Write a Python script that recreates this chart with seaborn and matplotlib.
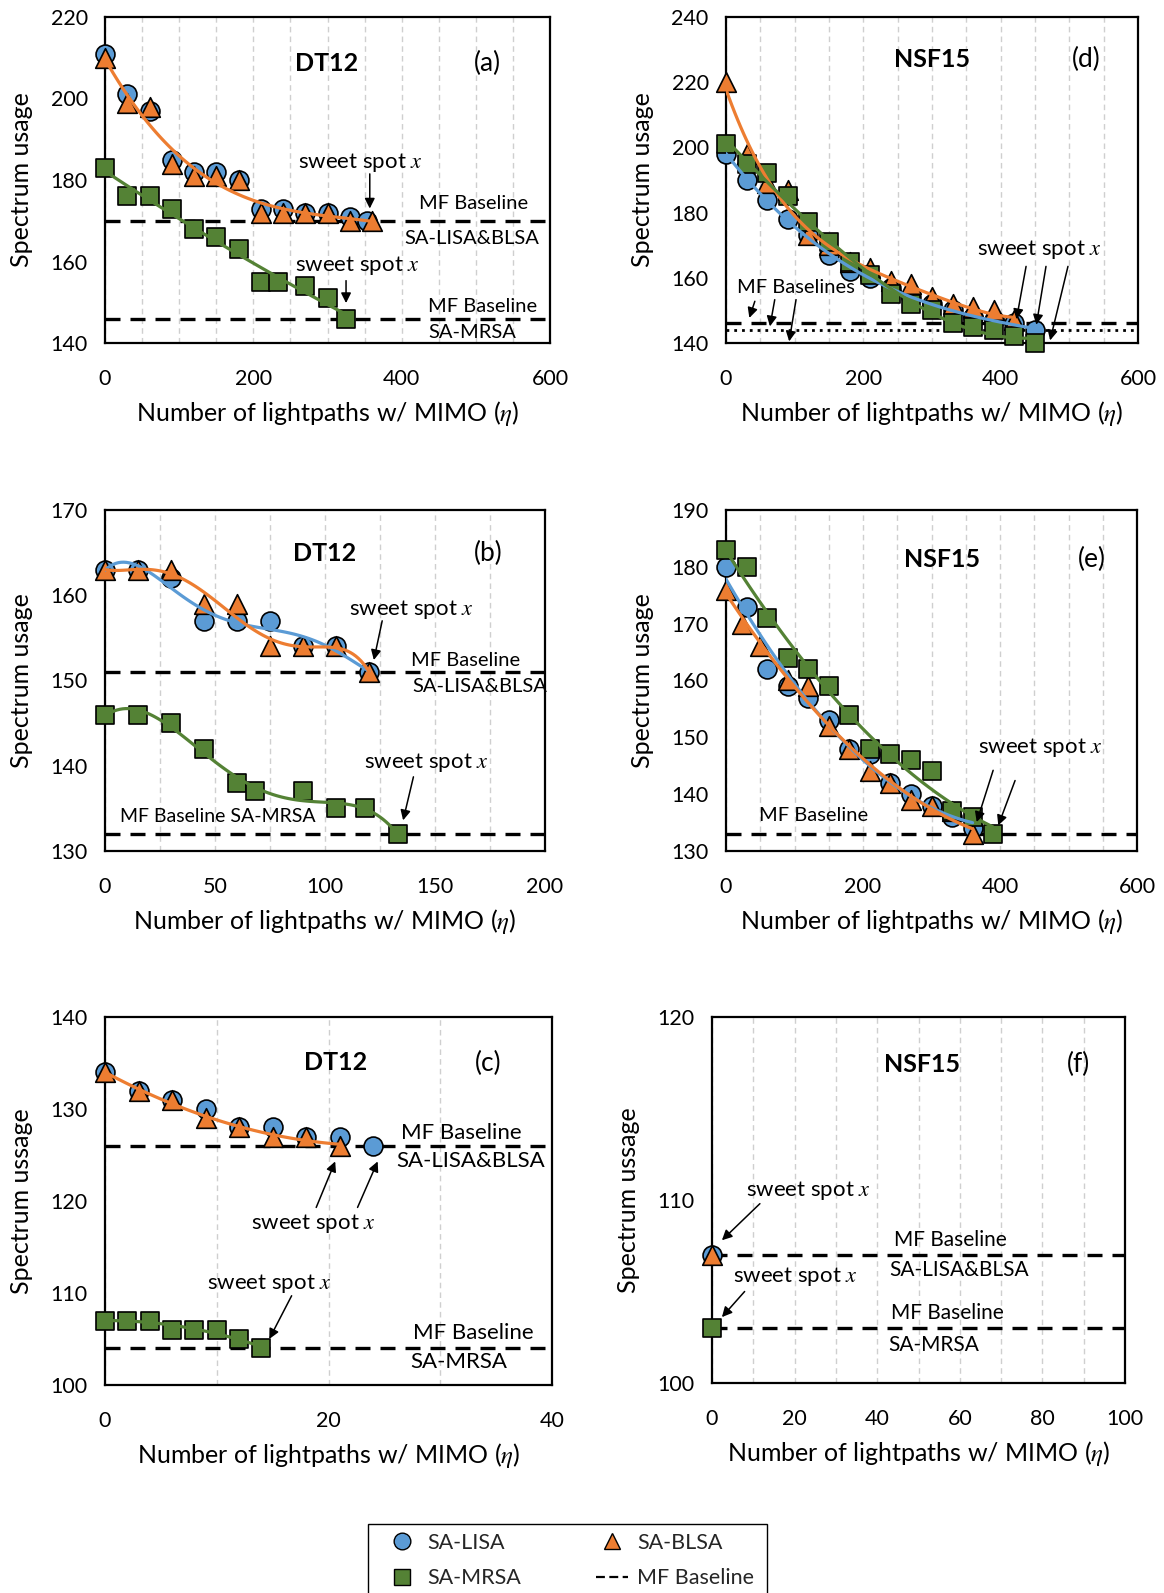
import numpy as np
import matplotlib
matplotlib.use("Agg")
import matplotlib.pyplot as plt
import seaborn as sns
from matplotlib.lines import Line2D
from matplotlib.patches import Rectangle
from matplotlib.ticker import MultipleLocator

# ---------------- data ----------------
# Panel (a) DT12
a_lisa_x = [0, 30, 60, 90, 120, 150, 180, 210, 240, 270, 300, 330, 353]
a_lisa_y = [211, 201, 197, 185, 182, 182, 180, 173, 173, 172, 172, 171, 170]
a_blsa_x = [0, 30, 60, 90, 120, 150, 180, 210, 240, 270, 300, 330, 360]
a_blsa_y = [210, 199, 198, 184, 181, 181, 180, 172, 172, 172, 172, 170, 170]
a_mrsa_x = [0, 30, 60, 90, 120, 150, 180, 210, 233, 270, 300, 325]
a_mrsa_y = [183, 176, 176, 173, 168, 166, 163, 155, 155, 154, 151, 146]
a_base = [170, 146]

# Panel (b) DT12
b_lisa_x = [0, 15, 30, 45, 60, 75, 90, 105, 120]
b_lisa_y = [163, 163, 162, 157, 157, 157, 154, 154, 151]
b_blsa_x = [0, 15, 30, 45, 60, 75, 90, 105, 120]
b_blsa_y = [163, 163, 163, 159, 159, 154, 154, 154, 151]
b_mrsa_x = [0, 15, 30, 45, 60, 68, 90, 105, 118, 133]
b_mrsa_y = [146, 146, 145, 142, 138, 137, 137, 135, 135, 132]
b_base = [151, 132]

# Panel (c) DT12
c_lisa_x = [0, 3, 6, 9, 12, 15, 18, 21, 24]
c_lisa_y = [134, 132, 131, 130, 128, 128, 127, 127, 126]
c_blsa_x = [0, 3, 6, 9, 12, 15, 18, 21]
c_blsa_y = [134, 132, 131, 129, 128, 127, 127, 126]
c_mrsa_x = [0, 2, 4, 6, 8, 10, 12, 14]
c_mrsa_y = [107, 107, 107, 106, 106, 106, 105, 104]
c_base = [126, 104]

# Panel (d) NSF15
d_lisa_x = [0, 30, 60, 90, 120, 150, 180, 210, 240, 270, 300, 330, 360, 390, 420, 450]
d_lisa_y = [198, 190, 184, 178, 173, 167, 162, 160, 157, 154, 152, 150, 148, 147, 146, 144]
d_blsa_x = [0, 30, 60, 90, 120, 150, 180, 210, 240, 270, 300, 330, 360, 390, 420]
d_blsa_y = [220, 198, 189, 187, 173, 170, 165, 163, 159, 158, 154, 152, 151, 150, 147]
d_mrsa_x = [0, 30, 60, 90, 120, 150, 180, 210, 240, 270, 300, 330, 360, 390, 420, 450]
d_mrsa_y = [201, 195, 192, 185, 177, 171, 165, 161, 155, 152, 150, 146, 145, 144, 142, 140]
d_base = [146, 144]

# Panel (e) NSF15
e_lisa_x = [0, 30, 60, 90, 120, 150, 180, 210, 240, 270, 300, 330, 360]
e_lisa_y = [180, 173, 162, 159, 157, 153, 148, 147, 142, 140, 138, 136, 134]
e_blsa_x = [0, 24, 50, 90, 120, 150, 180, 210, 240, 270, 300, 330, 360]
e_blsa_y = [176, 170, 166, 160, 159, 152, 148, 144, 142, 139, 138, 137, 133]
e_mrsa_x = [0, 30, 60, 90, 120, 150, 180, 210, 240, 270, 300, 330, 360, 390]
e_mrsa_y = [183, 180, 171, 164, 162, 159, 154, 148, 147, 146, 144, 137, 136, 133]
e_base = [133]

# Panel (f) NSF15
f_lisa_x = [0]
f_lisa_y = [107]
f_blsa_x = [0]
f_blsa_y = [107]
f_mrsa_x = [0]
f_mrsa_y = [103]
f_base = [107, 103]

# ---------------- style ----------------
W, H = 1164, 1593
sns.set_theme(style="white")
plt.rcParams["font.family"] = ["Lato", "DejaVu Sans"]
plt.rcParams["mathtext.fontset"] = "stix"

BLUE = "#5B9BD5"
ORANGE = "#ED7D31"
GREEN = "#548235"
TICK_FS = 15.5
LAB_FS = 18
ANN_FS = 16
MF_FS = 14.5
TITLE_FS = 18
PAREN_FS = 19

fig = plt.figure(figsize=(W / 100, H / 100), dpi=100)


def add_ax(l, r, t, b):
    return fig.add_axes([l / W, 1 - b / H, (r - l) / W, (b - t) / H])


def style_ax(ax, box, xlim, ylim, xmaj, xmin, ymaj, ymin, ylabel):
    l, r, t, b = box
    ax.set_xlim(xlim)
    ax.set_ylim(ylim)
    ax.xaxis.set_major_locator(MultipleLocator(xmaj))
    ax.xaxis.set_minor_locator(MultipleLocator(xmin))
    ax.yaxis.set_major_locator(MultipleLocator(ymaj))
    ax.yaxis.set_minor_locator(MultipleLocator(ymin))
    ax.grid(True, which="both", axis="x", color="#CFCFCF", lw=1.0, ls=(0, (4, 3)), zorder=0)
    ax.grid(False, axis="y")
    for s in ax.spines.values():
        s.set_color("black")
        s.set_linewidth(1.6)
    ax.tick_params(axis="both", which="major", direction="inout", length=11, width=1.5,
                   color="black", labelsize=TICK_FS, labelcolor="black")
    ax.tick_params(axis="x", which="major", pad=13)
    ax.tick_params(axis="y", which="major", pad=7)
    ax.tick_params(axis="both", which="minor", direction="in", length=5, width=1.2, color="black")
    ax.set_xlabel(r"Number of lightpaths w/ MIMO ($\eta$)", fontsize=LAB_FS, color="black")
    ax.set_ylabel(ylabel, fontsize=LAB_FS, color="black")
    ax.xaxis.label.set_va("center")
    ax.yaxis.label.set(va="center", ha="center", rotation_mode="default")
    ax.xaxis.set_label_coords(0.5, -71 / (b - t))
    ax.yaxis.set_label_coords(-83 / (r - l), 0.5)
    ax.set_axisbelow(True)


def points(ax, lx, ly, bx, by, mx, my):
    sns.scatterplot(x=lx, y=ly, marker="o", s=185, color=BLUE, edgecolor="black",
                    linewidth=1.2, ax=ax, zorder=3, legend=False, clip_on=False)
    sns.scatterplot(x=bx, y=by, marker="^", s=200, color=ORANGE, edgecolor="black",
                    linewidth=1.2, ax=ax, zorder=4, legend=False, clip_on=False)
    sns.scatterplot(x=mx, y=my, marker="s", s=160, color=GREEN, edgecolor="black",
                    linewidth=1.2, ax=ax, zorder=5, legend=False, clip_on=False)


def trend(ax, x, y, order, color):
    sns.regplot(x=np.array(x, float), y=np.array(y, float), order=order, ci=None,
                scatter=False, truncate=True, ax=ax,
                line_kws=dict(color=color, lw=2.3, zorder=6))


def baseline(ax, y, style="dash"):
    if style == "dash":
        ax.axhline(y, color="black", lw=2.4, ls=(0, (4.5, 3)), zorder=2)
    else:
        ax.axhline(y, color="black", lw=2.0, ls=(0, (1, 1.8)), zorder=2)


def arrow(ax, x1, y1, x2, y2):
    ax.annotate("", xy=(x2, y2), xytext=(x1, y1),
                arrowprops=dict(arrowstyle="-|>", color="black", lw=1.1,
                                mutation_scale=15, shrinkA=0, shrinkB=0), zorder=8)


def txt(ax, x, y, s, fs=ANN_FS, **kw):
    ax.text(x, y, s, fontsize=fs, ha="center", va="center", color="black", zorder=9, **kw)


SWEET = r"sweet spot $x$"

# ---------------- panel (a) ----------------
box = (105, 550, 17, 343)
ax = add_ax(*box)
points(ax, a_lisa_x, a_lisa_y, a_blsa_x, a_blsa_y, a_mrsa_x, a_mrsa_y)
trend(ax, a_blsa_x, a_blsa_y, 3, ORANGE)
trend(ax, a_mrsa_x, a_mrsa_y, 2, GREEN)
for v in a_base:
    baseline(ax, v)
style_ax(ax, box, (0, 600), (140, 220), 200, 50, 20, 10, "Spectrum usage")
txt(ax, 299, 208.7, "DT12", fs=TITLE_FS, fontweight="bold")
txt(ax, 515, 208.7, "(a)", fs=PAREN_FS)
txt(ax, 344, 184.3, SWEET)
arrow(ax, 357, 181.5, 357, 173.0)
txt(ax, 497, 174.3, "MF Baseline", fs=MF_FS)
txt(ax, 495, 165.6, "SA-LISA&BLSA", fs=MF_FS)
txt(ax, 340, 158.9, SWEET)
arrow(ax, 325, 155.3, 325, 149.8)
txt(ax, 509, 148.9, "MF Baseline", fs=MF_FS)
txt(ax, 495, 142.6, "SA-MRSA", fs=MF_FS)

# ---------------- panel (d) ----------------
box = (726, 1138, 17, 343)
ax = add_ax(*box)
points(ax, d_lisa_x, d_lisa_y, d_blsa_x, d_blsa_y, d_mrsa_x, d_mrsa_y)
trend(ax, d_lisa_x, d_lisa_y, 3, BLUE)
trend(ax, d_blsa_x, d_blsa_y, 4, ORANGE)
trend(ax, d_mrsa_x, d_mrsa_y, 3, GREEN)
baseline(ax, d_base[0])
baseline(ax, d_base[1], style="dot")
style_ax(ax, box, (0, 600), (140, 240), 200, 50, 20, 10, "Spectrum usage")
txt(ax, 300, 227.1, "NSF15", fs=TITLE_FS, fontweight="bold")
txt(ax, 525, 227.1, "(d)", fs=PAREN_FS)
txt(ax, 457, 168.6, SWEET)
arrow(ax, 437, 163.5, 423, 147.3)
arrow(ax, 466, 163.5, 452, 145.6)
arrow(ax, 498, 163.5, 472, 140.8)
txt(ax, 102, 156.9, "MF Baselines", fs=MF_FS)
arrow(ax, 42, 152.8, 34, 147.7)
arrow(ax, 71, 153.3, 64, 145.1)
arrow(ax, 102, 153.3, 92, 140.5)

# ---------------- panel (b) ----------------
box = (105, 545, 510, 851)
ax = add_ax(*box)
points(ax, b_lisa_x, b_lisa_y, b_blsa_x, b_blsa_y, b_mrsa_x, b_mrsa_y)
trend(ax, b_lisa_x, b_lisa_y, 5, BLUE)
trend(ax, b_blsa_x, b_blsa_y, 5, ORANGE)
trend(ax, b_mrsa_x, b_mrsa_y, 5, GREEN)
for v in b_base:
    baseline(ax, v)
style_ax(ax, box, (0, 200), (130, 170), 50, 25, 10, 5, "Spectrum usage")
txt(ax, 100, 164.9, "DT12", fs=TITLE_FS, fontweight="bold")
txt(ax, 174.3, 164.9, "(b)", fs=PAREN_FS)
txt(ax, 139.3, 158.3, SWEET)
arrow(ax, 126, 157.0, 122.2, 152.4)
txt(ax, 164, 152.3, "MF Baseline", fs=MF_FS)
txt(ax, 170.2, 149.3, "SA-LISA&BLSA", fs=MF_FS)
txt(ax, 146.2, 140.4, SWEET)
arrow(ax, 140.2, 138.7, 135.5, 133.6)
txt(ax, 51.1, 134.1, "MF Baseline SA-MRSA", fs=14)

# ---------------- panel (e) ----------------
box = (726, 1137, 510, 851)
ax = add_ax(*box)
points(ax, e_lisa_x, e_lisa_y, e_blsa_x, e_blsa_y, e_mrsa_x, e_mrsa_y)
trend(ax, e_lisa_x, e_lisa_y, 2, BLUE)
trend(ax, e_blsa_x, e_blsa_y, 2, ORANGE)
trend(ax, e_mrsa_x, e_mrsa_y, 2, GREEN)
baseline(ax, e_base[0])
style_ax(ax, box, (0, 600), (130, 190), 200, 50, 10, 5, "Spectrum usage")
txt(ax, 314.7, 181.3, "NSF15", fs=TITLE_FS, fontweight="bold")
txt(ax, 534, 181.3, "(e)", fs=PAREN_FS)
txt(ax, 458.4, 148.2, SWEET)
arrow(ax, 390, 144.2, 366, 135.1)
arrow(ax, 422, 142.4, 397.5, 134.5)
txt(ax, 127.5, 136.3, "MF Baseline", fs=MF_FS)

# ---------------- panel (c) ----------------
box = (105, 552, 1017, 1385)
ax = add_ax(*box)
points(ax, c_lisa_x, c_lisa_y, c_blsa_x, c_blsa_y, c_mrsa_x, c_mrsa_y)
trend(ax, c_blsa_x, c_blsa_y, 2, ORANGE)
trend(ax, c_mrsa_x, c_mrsa_y, 2, GREEN)
for v in c_base:
    baseline(ax, v)
style_ax(ax, box, (0, 40), (100, 140), 20, 10, 10, 5, "Spectrum ussage")
txt(ax, 20.6, 135, "DT12", fs=TITLE_FS, fontweight="bold")
txt(ax, 34.3, 135, "(c)", fs=PAREN_FS)
txt(ax, 31.9, 127.4, "MF Baseline", fs=ANN_FS)
txt(ax, 32.7, 124.3, "SA-LISA&BLSA", fs=ANN_FS)
txt(ax, 18.6, 117.6, SWEET)
arrow(ax, 18.9, 119.3, 20.6, 124.3)
arrow(ax, 22.6, 119.3, 24.4, 124.3)
txt(ax, 14.7, 111.0, SWEET)
arrow(ax, 16.7, 109.7, 14.7, 105.0)
txt(ax, 33.0, 105.6, "MF Baseline", fs=ANN_FS)
txt(ax, 31.7, 102.5, "SA-MRSA", fs=ANN_FS)

# ---------------- panel (f) ----------------
box = (712, 1125, 1017, 1383)
ax = add_ax(*box)
points(ax, f_lisa_x, f_lisa_y, f_blsa_x, f_blsa_y, f_mrsa_x, f_mrsa_y)
for v in f_base:
    baseline(ax, v)
style_ax(ax, box, (0, 100), (100, 120), 20, 10, 10, 5, "Spectrum ussage")
txt(ax, 50.9, 117.4, "NSF15", fs=TITLE_FS, fontweight="bold")
txt(ax, 88.8, 117.4, "(f)", fs=PAREN_FS)
txt(ax, 23.4, 110.5, SWEET)
arrow(ax, 11.6, 109.8, 2.4, 107.8)
txt(ax, 20.2, 105.8, SWEET)
arrow(ax, 7.9, 105.0, 2.4, 103.6)
txt(ax, 57.6, 107.8, "MF Baseline", fs=MF_FS + 0.5)
txt(ax, 59.8, 106.2, "SA-LISA&BLSA", fs=MF_FS + 0.5)
txt(ax, 57.1, 103.8, "MF Baseline", fs=MF_FS + 0.5)
txt(ax, 53.6, 102.1, "SA-MRSA", fs=MF_FS + 0.5)

# ---------------- legend ----------------
fig.patches.append(Rectangle((368 / W, -0.01), (767 - 368) / W, 0.01 + (H - 1524) / H,
                             transform=fig.transFigure, fill=False, edgecolor="black",
                             lw=1.0, zorder=1))
handles = [
    Line2D([], [], ls="none", marker="o", ms=12, mfc=BLUE, mec="black", mew=1.0),
    Line2D([], [], ls="none", marker="s", ms=11, mfc=GREEN, mec="black", mew=1.0),
    Line2D([], [], ls="none", marker="^", ms=12, mfc=ORANGE, mec="black", mew=1.0),
    Line2D([], [], color="black", lw=1.6, ls=(0, (4, 2))),
]
labels = ["SA-LISA", "SA-MRSA", "SA-BLSA", "MF Baseline"]
leg = fig.legend(handles, labels, ncol=2, loc="upper left",
                 bbox_to_anchor=(386 / W, 1 - 1533 / H), fontsize=15.5,
                 frameon=False, handlelength=1.5, handletextpad=0.4,
                 columnspacing=3.5, borderpad=0.0, labelspacing=0.72, borderaxespad=0)

fig.savefig("out.png", dpi=100)
